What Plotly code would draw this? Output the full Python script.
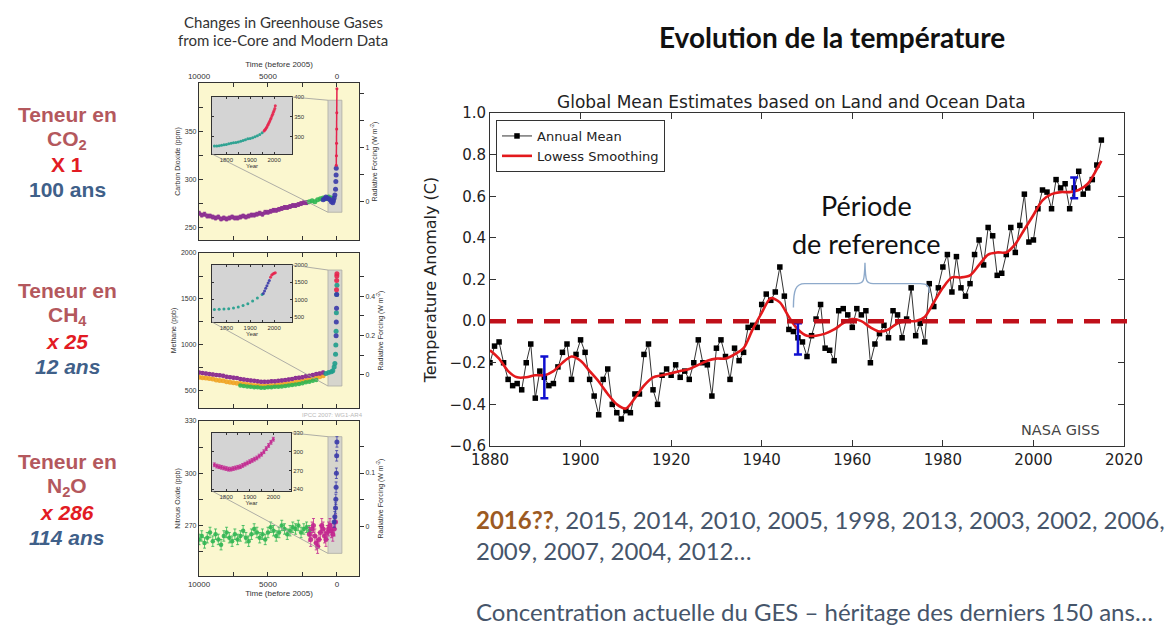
import plotly.graph_objects as go

W, H = 1172, 626


def px(x):
    return x / W


def py(y):
    return 1 - y / H


# ---------------- Temperature anomaly (NASA GISS, base 1951-1980) ----------------
years = list(range(1880, 2016))
annual_mean = [
    -0.20, -0.12, -0.10, -0.20, -0.28, -0.31, -0.30, -0.33, -0.20, -0.11,
    -0.37, -0.24, -0.27, -0.31, -0.30, -0.22, -0.15, -0.11, -0.28, -0.16,
    -0.09, -0.15, -0.28, -0.36, -0.45, -0.28, -0.23, -0.40, -0.44, -0.47,
    -0.43, -0.44, -0.35, -0.35, -0.16, -0.11, -0.33, -0.40, -0.26, -0.23,
    -0.26, -0.21, -0.27, -0.24, -0.28, -0.20, -0.09, -0.20, -0.21, -0.36,
    -0.13, -0.09, -0.17, -0.28, -0.13, -0.19, -0.15, -0.03, -0.02, -0.03,
    0.08, 0.13, 0.10, 0.14, 0.26, 0.12, -0.04, -0.05, -0.08, -0.10,
    -0.17, -0.07, 0.01, 0.08, -0.13, -0.14, -0.19, 0.05, 0.06, 0.03,
    -0.03, 0.06, 0.03, 0.05, -0.20, -0.11, -0.06, -0.02, -0.08, 0.05,
    0.03, -0.08, 0.01, 0.16, -0.07, -0.01, -0.10, 0.18, 0.07, 0.16,
    0.26, 0.32, 0.14, 0.31, 0.16, 0.12, 0.18, 0.32, 0.39, 0.27,
    0.45, 0.41, 0.22, 0.23, 0.32, 0.45, 0.33, 0.46, 0.61, 0.38,
    0.39, 0.54, 0.63, 0.62, 0.54, 0.68, 0.64, 0.66, 0.54, 0.64,
    0.72, 0.61, 0.64, 0.68, 0.75, 0.87,
]
lowess_years = [
    1880, 1882, 1884, 1886, 1888, 1890, 1892, 1894, 1896, 1898,
    1900, 1902, 1904, 1906, 1908, 1910, 1912, 1914, 1916, 1918,
    1920, 1922, 1924, 1926, 1928, 1930, 1932, 1934, 1936, 1938,
    1940, 1942, 1944, 1946, 1948, 1950, 1952, 1954, 1956, 1958,
    1960, 1962, 1964, 1966, 1968, 1970, 1972, 1974, 1976, 1978,
    1980, 1982, 1984, 1986, 1988, 1990, 1992, 1994, 1996, 1998,
    2000, 2002, 2004, 2006, 2008, 2010, 2012, 2014, 2015,
]
lowess_vals = [
    -0.14, -0.18, -0.24, -0.27, -0.27, -0.26, -0.26, -0.24, -0.20, -0.17,
    -0.19, -0.24, -0.29, -0.35, -0.40, -0.42, -0.37, -0.31, -0.27, -0.26,
    -0.25, -0.24, -0.23, -0.21, -0.19, -0.18, -0.18, -0.16, -0.13, -0.04,
    0.04, 0.11, 0.09, 0.02, -0.04, -0.07, -0.07, -0.06, -0.04, -0.01,
    0.01, 0.00, -0.03, -0.05, -0.04, -0.01, 0.00, 0.00, 0.02, 0.09,
    0.16, 0.21, 0.21, 0.22, 0.27, 0.32, 0.33, 0.33, 0.37, 0.44,
    0.51, 0.58, 0.61, 0.62, 0.62, 0.63, 0.66, 0.73, 0.77,
]
err_years = [1892, 1948, 2009]
err_center = [-0.27, -0.085, 0.64]
err_half = [0.10, 0.075, 0.05]
temp_xticks = [1880, 1900, 1920, 1940, 1960, 1980, 2000, 2020]
temp_yticks = [-0.6, -0.4, -0.2, 0.0, 0.2, 0.4, 0.6, 0.8, 1.0]

# ---------------- Greenhouse gases, ice-core + modern (age before 2005) ----------------
age_ticks = [10000, 5000, 0]
age_minor = [7500, 2500]

co2_purple_age = list(range(10000, 2000, -200))
co2_purple = [265, 263, 264, 262, 262, 261, 260, 261, 259, 260,
              259, 260, 261, 260, 260, 261, 262, 261, 262, 263,
              263, 264, 265, 264, 266, 266, 267, 268, 268, 269,
              270, 271, 271, 272, 273, 273, 274, 275, 276, 276]
co2_green_age = [2000, 1800, 1600, 1400, 1200, 1000, 800, 600, 400, 300]
co2_green = [277, 278, 277, 279, 280, 281, 280, 282, 281, 279]
co2_blue_age = [1000, 900, 800, 700, 600, 500, 400, 300, 250, 200, 150, 100, 80, 60, 50]
co2_blue = [279, 280, 282, 281, 280, 279, 277, 276, 278, 281, 284, 290, 298, 305, 312]
co2_red_age = [47, 40, 30, 20, 10, 0]
co2_red = [315, 325, 338, 353, 370, 395]

ch4_age = list(range(10000, 750, -250))
ch4_purple = [700, 695, 690, 685, 680, 675, 670, 665, 655, 650,
              645, 640, 630, 625, 620, 615, 610, 605, 600, 600,
              600, 605, 605, 610, 615, 620, 625, 630, 640, 645,
              650, 660, 665, 675, 685, 690, 700]
ch4_orange = [650, 645, 640, 635, 630, 620, 615, 610, 600, 595,
              590, 585, 580, 575, 570, 565, 560, 560, 555, 555,
              555, 560, 560, 565, 570, 575, 580, 585, 595, 600,
              610, 615, 625, 635, 645, 655, 665]
ch4_green_age = list(range(7000, 1250, -250))
ch4_green = [560, 555, 550, 545, 540, 540, 535, 535, 540, 540, 545, 545,
             550, 555, 560, 565, 570, 575, 585, 595, 600, 610, 620]
ch4_teal_age = [800, 600, 400, 300, 200, 150, 100, 80, 60, 40, 20, 0]
ch4_teal = [690, 700, 710, 720, 760, 800, 900, 1000, 1150, 1350, 1550, 1650]
ch4_blue_age = [60, 45, 30, 20]
ch4_blue = [1100, 1250, 1400, 1550]
ch4_red_age = [30, 20, 10, 0]
ch4_red = [1600, 1700, 1750, 1775]

n2o_green_age = list(range(10000, 1800, -200))
n2o_green = [262, 264, 260, 263, 266, 261, 265, 262, 259, 264,
             266, 263, 261, 265, 262, 264, 267, 263, 261, 265,
             268, 266, 263, 265, 262, 266, 269, 267, 264, 266,
             270, 268, 265, 267, 269, 268, 270, 266, 268, 269, 267]
n2o_purple_age = list(range(2000, 0, -100))
n2o_purple = [265, 262, 268, 270, 264, 260, 258, 262, 266, 270,
              268, 264, 262, 266, 268, 270, 267, 265, 268, 272]
n2o_spike_age = [200, 150, 100, 80, 60, 40, 20, 0]
n2o_spike = [272, 275, 280, 285, 292, 300, 310, 318]

# Inset series (calendar years)
ins_co2_yr = [1750, 1760, 1770, 1780, 1790, 1800, 1810, 1820, 1830, 1840, 1850,
              1860, 1870, 1880, 1890, 1900, 1910, 1920, 1930, 1940, 1950]
ins_co2 = [277, 277, 278, 279, 280, 281, 283, 284, 285, 286, 287,
           289, 291, 293, 295, 296, 298, 300, 303, 306, 310]
ins_co2_red_yr = [1958, 1961, 1964, 1967, 1970, 1973, 1976, 1979, 1982,
                  1985, 1988, 1991, 1994, 1997, 2000, 2003, 2005]
ins_co2_red = [315, 317, 319, 322, 325, 329, 332, 336, 340,
               344, 348, 353, 357, 362, 366, 371, 378]
ins_ch4_yr = [1750, 1770, 1790, 1810, 1830, 1850, 1870, 1890, 1910, 1930, 1950]
ins_ch4 = [720, 725, 730, 740, 760, 790, 830, 880, 960, 1050, 1150]
ins_ch4_blue_yr = [1955, 1960, 1965, 1970, 1975, 1980]
ins_ch4_blue = [1180, 1250, 1330, 1400, 1480, 1550]
ins_ch4_red_yr = [1985, 1990, 1995, 2000, 2005]
ins_ch4_red = [1650, 1710, 1740, 1760, 1775]
ins_n2o_yr = [1750, 1760, 1770, 1780, 1790, 1800, 1810, 1820, 1830, 1840, 1850, 1860, 1870,
              1880, 1890, 1900, 1910, 1920, 1930, 1940, 1950, 1960, 1970, 1980, 1990, 2000]
ins_n2o = [279, 277, 276, 275, 274, 273, 272, 272, 273, 274, 275, 276, 278,
           280, 282, 284, 286, 288, 290, 293, 296, 300, 305, 310, 315, 320]

PURPLE, MAGENTA, GREEN, TEAL = "#8a2b90", "#c2258f", "#2fb552", "#1f9d8c"
BLUE, RED, ORANGE = "#3a3aa8", "#e5234d", "#f0a323"
PANEL_BG, INSET_BG = "#fbf7cf", "#d4d4d4"

fig = go.Figure()

# ---------------- temperature traces ----------------
fig.add_trace(go.Scatter(
    x=years, y=annual_mean, mode="lines+markers", name="Annual Mean",
    line=dict(color="#333333", width=1),
    marker=dict(symbol="square", size=5.5, color="black"),
    xaxis="x", yaxis="y"))
fig.add_trace(go.Scatter(
    x=lowess_years, y=lowess_vals, mode="lines", name="Lowess Smoothing",
    line=dict(color="#e3191c", width=2.6, shape="spline", smoothing=0.8),
    xaxis="x", yaxis="y"))
fig.add_trace(go.Scatter(
    x=err_years, y=err_center, mode="markers", showlegend=False,
    marker=dict(size=1, color="#1010d0"),
    error_y=dict(type="data", array=err_half, color="#1010d0", thickness=2.5, width=4),
    xaxis="x", yaxis="y"))


def panel_scatter(x, y, color, xa, ya, size=4.5, err=None):
    tr = dict(x=x, y=y, mode="markers", showlegend=False,
              marker=dict(size=size, color=color, opacity=0.9),
              xaxis=xa, yaxis=ya)
    if err is not None:
        tr["error_y"] = dict(type="constant", value=err, color=color, thickness=0.8, width=1.5)
    fig.add_trace(go.Scatter(**tr))


def ghost(xa, ya):
    fig.add_trace(go.Scatter(x=[None], y=[None], showlegend=False, hoverinfo="skip",
                             xaxis=xa, yaxis=ya))


# CO2 panel
panel_scatter(co2_purple_age, co2_purple, PURPLE, "x2", "y2", err=2)
panel_scatter(co2_green_age, co2_green, GREEN, "x2", "y2", size=5)
panel_scatter(co2_blue_age, co2_blue, BLUE, "x2", "y2", size=5)
fig.add_trace(go.Scatter(x=co2_red_age, y=co2_red, mode="lines+markers", showlegend=False,
                         line=dict(color=RED, width=1.5), marker=dict(size=3, color=RED),
                         xaxis="x2", yaxis="y2"))
ghost("x2", "y3")
# CH4 panel
panel_scatter(ch4_age, ch4_orange, ORANGE, "x3", "y4", size=5)
panel_scatter(ch4_green_age, ch4_green, GREEN, "x3", "y4", size=4.5)
panel_scatter(ch4_age, ch4_purple, PURPLE, "x3", "y4", size=4.5, err=15)
panel_scatter(ch4_teal_age, ch4_teal, TEAL, "x3", "y4", size=5)
panel_scatter(ch4_blue_age, ch4_blue, BLUE, "x3", "y4", size=5)
panel_scatter(ch4_red_age, ch4_red, RED, "x3", "y4", size=5)
ghost("x3", "y5")
# N2O panel
panel_scatter(n2o_green_age, n2o_green, GREEN, "x4", "y6", size=4.5, err=3)
panel_scatter(n2o_purple_age, n2o_purple, MAGENTA, "x4", "y6", size=5, err=4)
panel_scatter(n2o_spike_age, n2o_spike, BLUE, "x4", "y6", size=5, err=3)
ghost("x4", "y7")
# insets
panel_scatter(ins_co2_yr, ins_co2, TEAL, "x5", "y8", size=3)
panel_scatter(ins_co2_red_yr, ins_co2_red, RED, "x5", "y8", size=3)
panel_scatter(ins_ch4_yr, ins_ch4, TEAL, "x6", "y9", size=3)
panel_scatter(ins_ch4_blue_yr, ins_ch4_blue, BLUE, "x6", "y9", size=3)
panel_scatter(ins_ch4_red_yr, ins_ch4_red, RED, "x6", "y9", size=3)
panel_scatter(ins_n2o_yr, ins_n2o, MAGENTA, "x7", "y10", size=3, err=3)

# ---------------- axes ----------------
TICKF = dict(family="DejaVu Sans", size=15, color="#222")
temp_x = dict(domain=[px(490), px(1124)], range=[1880, 2020], anchor="y",
              tickvals=temp_xticks, ticks="inside", ticklen=6, tickcolor="#333",
              showline=True, linecolor="#333", linewidth=1, mirror="ticks",
              showgrid=False, zeroline=False, tickfont=TICKF, automargin=False)
temp_y = dict(domain=[py(446), py(113)], range=[-0.6, 1.0], anchor="x",
              tickvals=temp_yticks, tickformat=".1f", ticks="inside", ticklen=6,
              tickcolor="#333", showline=True, linecolor="#333", linewidth=1,
              mirror="ticks", showgrid=False, zeroline=False, tickfont=TICKF,
              title=dict(text="Temperature Anomaly (C)", standoff=8,
                         font=dict(family="DejaVu Sans", size=16, color="#222")),
              automargin=False)

SMALL = dict(family="Liberation Sans", size=7, color="#333")
TINY = dict(family="Liberation Sans", size=6, color="#333")
PX0, PX1 = px(199), px(359)


def minor(vals, ln=4, inside=True):
    return dict(tickvals=vals, ticks="inside" if inside else "outside",
                ticklen=ln, tickcolor="#333", showgrid=False)


def age_axis(anchor, labels, side="bottom", title=None):
    d = dict(domain=[PX0, PX1], range=[10000, -1600], anchor=anchor,
             tickvals=age_ticks, tickformat="d", showticklabels=labels,
             minor=minor(age_minor),
             side=side, ticks="inside", ticklen=4, tickcolor="#333",
             showline=True, linecolor="#333", linewidth=1.2, mirror="ticks",
             showgrid=False, zeroline=False, tickfont=dict(SMALL, size=8),
             automargin=False)
    if title:
        d["title"] = dict(text=title, standoff=2,
                          font=dict(family="Liberation Sans", size=8, color="#333"))
    return d


def gas_axis(dom, rng, tv, mv, anchor, title):
    return dict(domain=dom, range=rng, anchor=anchor, tickvals=tv, minor=minor(mv),
                tickformat="d",
                ticks="inside", ticklen=4, tickcolor="#333", showline=True,
                linecolor="#333", linewidth=1.2, mirror=True, showgrid=False,
                zeroline=False, tickfont=SMALL, automargin=False,
                title=dict(text=title, standoff=3, font=SMALL))


def rf_axis(over, rng, tv, mv, anchor):
    return dict(overlaying=over, side="right", anchor=anchor, range=rng,
                tickvals=tv, minor=minor(mv, inside=False), ticks="outside", ticklen=4,
                tickcolor="#333", showgrid=False, zeroline=False,
                tickfont=SMALL, automargin=False,
                title=dict(text="Radiative Forcing (W m<sup>-2</sup>)", standoff=3, font=SMALL))


def inset_x(anchor, dom):
    return dict(domain=dom, range=[1740, 2075], anchor=anchor,
                tickvals=[1800, 1900, 2000], minor=minor([1850, 1950], ln=2),
                tickformat="d",
                ticks="inside", ticklen=2, tickcolor="#333", showline=True,
                linecolor="#333", linewidth=1, mirror="ticks", showgrid=False,
                zeroline=False, tickfont=TINY, automargin=False,
                title=dict(text="Year", standoff=0, font=TINY))


def inset_y(anchor, dom, rng, tv):
    return dict(domain=dom, range=rng, anchor=anchor, side="right", tickvals=tv,
                tickformat="d",
                ticks="inside", ticklen=2, tickcolor="#333", showline=True,
                linecolor="#333", linewidth=1, mirror="ticks", showgrid=False,
                zeroline=False, tickfont=TINY, automargin=False)


CO2_DOM = [py(240), py(83)]
CH4_DOM = [py(408), py(253)]
N2O_DOM = [py(576), py(421)]
IX = [px(212), px(292)]
CO2_RNG, CH4_RNG, N2O_RNG = [237, 401], [315, 2000], [241, 330]

fig.update_layout(
    xaxis=temp_x, yaxis=temp_y,
    xaxis2=age_axis("y2", True, side="top", title="Time (before 2005)"),
    yaxis2=gas_axis(CO2_DOM, CO2_RNG, [250, 300, 350], [275, 325, 375, 400],
                    "x2", "Carbon Dioxide (ppm)"),
    yaxis3=rf_axis("y2", [-0.72, 2.19], [0, 1], [0.5, 1.5, 2], "x2"),
    xaxis3=age_axis("y4", False),
    yaxis4=gas_axis(CH4_DOM, CH4_RNG, [500, 1000, 1500, 2000], [750, 1250, 1750],
                    "x3", "Methane (ppb)"),
    yaxis5=rf_axis("y4", [-0.17, 0.62], [0, 0.2, 0.4], [0.1, 0.3, 0.5], "x3"),
    xaxis4=age_axis("y6", True, side="bottom", title="Time (before 2005)"),
    yaxis6=gas_axis(N2O_DOM, N2O_RNG, [270, 300, 330], [255, 285, 315],
                    "x4", "Nitrous Oxide (ppb)"),
    yaxis7=rf_axis("y6", [-0.094, 0.198], [0, 0.1], [0.05, 0.15], "x4"),
    xaxis5=inset_x("y8", IX),
    yaxis8=inset_y("x5", [py(154), py(97)], [257, 400], [300, 350, 400]),
    xaxis6=inset_x("y9", IX),
    yaxis9=inset_y("x6", [py(322), py(265)], [357, 2000], [500, 1000, 1500, 2000]),
    xaxis7=inset_x("y10", [px(212), px(291)]),
    yaxis10=inset_y("x7", [py(491), py(433)], [237, 330], [240, 270, 300, 330]),
)


# ---------------- shapes ----------------
def to_paper(xv, yv, xr, xd, yr, yd):
    fx = (xv - xr[0]) / (xr[1] - xr[0])
    fy = (yv - yr[0]) / (yr[1] - yr[0])
    return xd[0] + fx * (xd[1] - xd[0]), yd[0] + fy * (yd[1] - yd[0])


shapes = []
# panel and inset backgrounds
for dom in (CO2_DOM, CH4_DOM, N2O_DOM):
    shapes.append(dict(type="rect", xref="paper", yref="paper", x0=PX0, x1=PX1,
                       y0=dom[0], y1=dom[1], fillcolor=PANEL_BG, line=dict(width=0),
                       layer="below"))
inset_doms = [[py(154), py(97)], [py(322), py(265)], [py(491), py(433)]]
for dom in inset_doms:
    shapes.append(dict(type="rect", xref="paper", yref="paper", x0=IX[0], x1=IX[1],
                       y0=dom[0], y1=dom[1], fillcolor=INSET_BG, line=dict(width=0),
                       layer="below"))

# highlighted recent period in each panel + connectors to the insets
bands = [("x2", "y2", CO2_DOM, CO2_RNG, [266, 383]),
         ("x3", "y4", CH4_DOM, CH4_RNG, [554, 1815]),
         ("x4", "y6", N2O_DOM, N2O_RNG, [254, 321])]
for (xa, ya, dom, rng, (b0, b1)), idom in zip(bands, inset_doms):
    shapes.append(dict(type="rect", xref=xa, yref=ya, x0=650, x1=-360, y0=b0, y1=b1,
                       fillcolor="#cdcdcd", opacity=0.8,
                       line=dict(color="#9a9a9a", width=0.8), layer="below"))
    bl = to_paper(650, b0, [10000, -1600], [PX0, PX1], rng, dom)
    tl = to_paper(650, b1, [10000, -1600], [PX0, PX1], rng, dom)
    shapes.append(dict(type="line", xref="paper", yref="paper", x0=IX[0], y0=idom[0],
                       x1=bl[0], y1=bl[1], line=dict(color="#9a9a9a", width=0.8)))
    shapes.append(dict(type="line", xref="paper", yref="paper", x0=IX[1], y0=idom[1],
                       x1=tl[0], y1=tl[1], line=dict(color="#9a9a9a", width=0.8)))

# zero reference line across the temperature chart
shapes.append(dict(type="line", xref="paper", yref="y", x0=px(490), x1=px(1133),
                   y0=0, y1=0, line=dict(color="#c0101a", width=4.5, dash="16px,11px")))

# curly brace marking the reference period
brace = ("M 1947,0.065 C 1947,0.15 1947.5,0.18 1949.5,0.18 "
         "L 1961,0.18 C 1962.5,0.18 1962.7,0.19 1962.8,0.28 "
         "C 1962.9,0.19 1963.1,0.18 1964.6,0.18 "
         "L 1975,0.18 C 1976.6,0.18 1977,0.17 1977,0.135")
shapes.append(dict(type="path", xref="x", yref="y", path=brace,
                   line=dict(color="#8eaacb", width=1.4)))

fig.update_layout(shapes=shapes)

# ---------------- text ----------------
ann = []


def text(x, y, s, size, color, family="Liberation Sans", xanchor="center", **kw):
    ann.append(dict(x=px(x), y=py(y), xref="paper", yref="paper", text=s,
                    showarrow=False, xanchor=xanchor, yanchor="middle", borderpad=0,
                    font=dict(family=family, size=size, color=color), **kw))


TEN, RED_T, BLUE_T = "#b4585d", "#e21b23", "#3f6089"
left_groups = [
    (["Teneur en", "CO<sub>2</sub>", "X 1", "100 ans"], [114, 140, 164, 189], False),
    (["Teneur en", "CH<sub>4</sub>", "x 25", "12 ans"], [290, 316, 341, 366], True),
    (["Teneur en", "N<sub>2</sub>O", "x 286", "114 ans"], [461, 487, 512, 537], True),
]
for labels, ys, ital in left_groups:
    cols = [TEN, TEN, RED_T, BLUE_T]
    for i, (lab, yy, c) in enumerate(zip(labels, ys, cols)):
        s = f"<b>{lab}</b>"
        if ital and i >= 2:
            s = f"<b><i>{lab}</i></b>"
        text(67, yy, s, 21, c)

text(283, 22, "Changes in Greenhouse Gases", 15, "#333", family="Lato")
text(283, 40, "from ice-Core and Modern Data", 15, "#333", family="Lato")
text(332, 415, "IPCC 2007: WG1-AR4", 6, "#b8b8b8")

text(832, 37, "<b>Evolution de la température</b>", 28, "#111", family="Lato")
text(792, 102, "Global Mean Estimates based on Land and Ocean Data", 17, "#222",
     family="DejaVu Sans")
text(866, 206, "Période", 27, "#111", family="Lato")
text(866, 243, "de reference", 27, "#111", family="Lato")
text(1060, 430, "NASA GISS", 14.5, "#444", family="DejaVu Sans")

GREY_T = "#46556a"
text(475, 519, "<b><span style='color:#9c5a22'>2016??</span></b>, 2015, 2014, 2010, 2005, "
               "1998, 2013, 2003, 2002, 2006,", 24, GREY_T, family="Lato", xanchor="left")
text(475, 550, "2009, 2007, 2004, 2012…", 24, GREY_T, family="Lato", xanchor="left")
text(475, 611, "Concentration actuelle du GES – héritage des derniers 150 ans…", 24, GREY_T,
     family="Lato", xanchor="left")

fig.update_layout(
    annotations=ann,
    width=W, height=H, margin=dict(l=0, r=0, t=0, b=0),
    paper_bgcolor="white", plot_bgcolor="rgba(0,0,0,0)",
    showlegend=True,
    legend=dict(x=px(496), y=py(120), xanchor="left", yanchor="top",
                bgcolor="white", bordercolor="#333", borderwidth=1,
                font=dict(family="DejaVu Sans", size=13, color="#222"),
                tracegroupgap=0, itemwidth=30),
)

fig.write_html("out.html")
